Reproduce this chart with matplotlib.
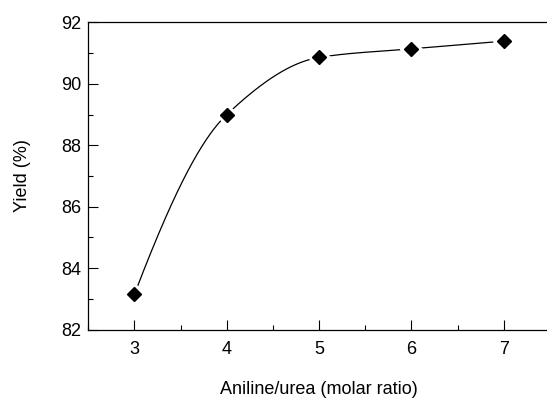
import numpy as np
import matplotlib
matplotlib.use("Agg")
import matplotlib.pyplot as plt
from matplotlib.ticker import MultipleLocator

ratio = [3, 4, 5, 6, 7]
yield_pct = [83.15, 89.0, 90.86, 91.14, 91.39]


def pchip(x, y, xs):
    x = np.asarray(x, float)
    y = np.asarray(y, float)
    h = np.diff(x)
    d = np.diff(y) / h
    m = np.zeros_like(y)
    for k in range(1, len(x) - 1):
        if d[k - 1] * d[k] > 0:
            w1 = 2 * h[k] + h[k - 1]
            w2 = h[k] + 2 * h[k - 1]
            m[k] = (w1 + w2) / (w1 / d[k - 1] + w2 / d[k])
    m[0] = ((2 * h[0] + h[1]) * d[0] - h[0] * d[1]) / (h[0] + h[1])
    if np.sign(m[0]) != np.sign(d[0]):
        m[0] = 0
    m[-1] = ((2 * h[-1] + h[-2]) * d[-1] - h[-1] * d[-2]) / (h[-1] + h[-2])
    if np.sign(m[-1]) != np.sign(d[-1]):
        m[-1] = 0
    idx = np.clip(np.searchsorted(x, xs) - 1, 0, len(x) - 2)
    t = (xs - x[idx]) / h[idx]
    h00 = 2 * t**3 - 3 * t**2 + 1
    h10 = t**3 - 2 * t**2 + t
    h01 = -2 * t**3 + 3 * t**2
    h11 = t**3 - t**2
    return h00 * y[idx] + h10 * h[idx] * m[idx] + h01 * y[idx + 1] + h11 * h[idx] * m[idx + 1]


plt.rcParams['font.family'] = ['Liberation Sans', 'DejaVu Sans']

fig = plt.figure(figsize=(5.47, 4.0), dpi=100)
ax = fig.add_axes([0.1614, 0.176, 0.844, 0.768])

xs = np.linspace(ratio[0], ratio[-1], 400)
ax.plot(xs, pchip(ratio, yield_pct, xs), color='black', lw=0.9, zorder=2)
ax.plot(ratio, yield_pct, linestyle='none', marker='D', ms=11, color='white', zorder=3)
ax.plot(ratio, yield_pct, linestyle='none', marker='D', ms=7.5, color='black', zorder=4)

ax.set_xlim(2.5, 7.5)
ax.set_ylim(82, 92)
ax.set_xticks(ratio)
ax.set_yticks([82, 84, 86, 88, 90, 92])
ax.xaxis.set_minor_locator(MultipleLocator(0.5))
ax.yaxis.set_minor_locator(MultipleLocator(1))
ax.tick_params(which='major', direction='in', length=7, width=0.8, labelsize=13, pad=8)
ax.tick_params(which='minor', direction='in', length=3.5, width=0.8)
ax.tick_params(axis='y', pad=5)
ax.spines['right'].set_visible(False)
for s in ax.spines.values():
    s.set_linewidth(0.9)

ax.set_xlabel('Aniline/urea (molar ratio)', fontsize=13, labelpad=17)
ax.set_ylabel('Yield (%)', fontsize=13, labelpad=22)

fig.savefig('out.png', dpi=100)
